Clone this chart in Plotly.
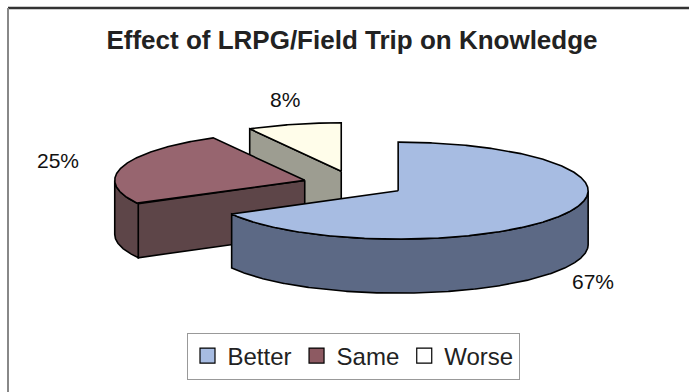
import numpy as np
import plotly.graph_objects as go

# ---- data -------------------------------------------------------------
categories = ["Better", "Same", "Worse"]
values = [67, 25, 8]

# ---- styling ----------------------------------------------------------
top_colors = ["#a7bce2", "#97656f", "#fffdea"]
side_colors = ["#5c6985", "#5d4548", "#9d9d91"]
legend_colors = ["#a7bce2", "#8d5a62", "#ffffff"]
FONT = "Liberation Sans, Arial, sans-serif"

# tilted-pie projection, in canvas pixel units
W, H = 689, 392
CX, CY = 354, 184          # centre of the un-exploded pie
RX, RY = 190, 48.5         # ellipse radii of the top face
DEPTH = 54                 # thickness of the pie
EXPLODE = 0.27             # slice offset along its bisector (fraction of radius)
LABEL_PULL = [(1.19, 1.50), (1.35, 1.48), (1.18, 1.53)]

total = float(sum(values))
fracs = [v / total for v in values]


def proj(ax, ay, th, dz=0.0):
    return ax + RX * np.cos(th), ay - RY * np.sin(th) + dz


fig = go.Figure()

slices = []
cum = 0.0
for i, f in enumerate(fracs):
    t0, t1 = cum, cum + f * 360.0          # clockwise degrees from 12 o'clock
    cum = t1
    th0, th1 = np.radians(90 - t0), np.radians(90 - t1)
    mid = 0.5 * (th0 + th1)
    ax = CX + EXPLODE * RX * np.cos(mid)
    ay = CY - EXPLODE * RY * np.sin(mid)
    slices.append(dict(i=i, th0=th0, th1=th1, mid=mid, ax=ax, ay=ay))

# paint back-to-front
for s in sorted(slices, key=lambda d: d["ay"]):
    i, ax, ay, th0, th1 = s["i"], s["ax"], s["ay"], s["th0"], s["th1"]
    polys = []

    # radial faces (visible when their outward normal points towards the viewer)
    for th, visible in ((th0, np.cos(th0) < -1e-9), (th1, np.cos(th1) > 1e-9)):
        if visible:
            rx_, ry_ = proj(ax, ay, th)
            polys.append(([ax, rx_, rx_, ax, ax],
                          [ay, ry_, ry_ + DEPTH, ay + DEPTH, ay]))

    # outer rim: front half of the ellipse only
    ths = np.linspace(th0, th1, int(abs(np.degrees(th1 - th0)) * 4) + 2)
    vis = np.sin(ths) <= 0
    runs, cur = [], []
    for th, v in zip(ths, vis):
        if v:
            cur.append(th)
        elif cur:
            runs.append(cur)
            cur = []
    if cur:
        runs.append(cur)
    for run in runs:
        run = np.array(run)
        xt, yt = proj(ax, ay, run)
        xb, yb = proj(ax, ay, run[::-1], DEPTH)
        xs = np.concatenate([xt, xb, xt[:1]])
        ys = np.concatenate([yt, yb, yt[:1]])
        polys.append((xs, ys))

    for xs, ys in polys:
        fig.add_trace(go.Scatter(
            x=list(xs), y=list(ys), mode="lines", fill="toself",
            fillcolor=side_colors[i], line=dict(color="black", width=1.6),
            hoverinfo="skip", showlegend=False))

    # top face
    xt, yt = proj(ax, ay, ths)
    fig.add_trace(go.Scatter(
        x=[ax] + list(xt) + [ax], y=[ay] + list(yt) + [ay],
        mode="lines", fill="toself", fillcolor=top_colors[i],
        line=dict(color="black", width=1.6),
        hoverinfo="skip", showlegend=False))

# percentage labels
for s in slices:
    i, mid = s["i"], s["mid"]
    fx, fy = LABEL_PULL[i]
    lx = s["ax"] + RX * np.cos(mid) * fx
    ly = s["ay"] - RY * np.sin(mid) * fy + (DEPTH if np.sin(mid) < 0 else 0)
    fig.add_annotation(x=lx, y=ly, text=f"{round(fracs[i] * 100)}%",
                       showarrow=False, xanchor="center", yanchor="middle",
                       font=dict(family=FONT, size=21, color="#111"))

# legend entries
for i, name in enumerate(categories):
    fig.add_trace(go.Scatter(
        x=[None], y=[None], mode="markers", name=name,
        marker=dict(symbol="square", size=15, color=legend_colors[i],
                    line=dict(color="black", width=1.2))))

# chart frame
fig.add_shape(type="line", x0=8, y0=8, x1=W, y1=8,
              line=dict(color="#333", width=2.5))
fig.add_shape(type="line", x0=8, y0=8, x1=8, y1=H,
              line=dict(color="#888", width=2))

fig.update_layout(
    width=W, height=H,
    margin=dict(l=0, r=0, t=0, b=0),
    paper_bgcolor="white", plot_bgcolor="white",
    xaxis=dict(range=[0, W], visible=False, fixedrange=True),
    yaxis=dict(range=[H, 0], visible=False, fixedrange=True),
    title=dict(text="<b>Effect of LRPG/Field Trip on Knowledge</b>",
               x=352 / W, xanchor="center", y=1 - 40 / H, yanchor="middle",
               font=dict(family=FONT, size=26, color="#222")),
    legend=dict(orientation="h", x=353 / W, xanchor="center",
                y=1 - 356 / H, yanchor="middle",
                bordercolor="#999", borderwidth=1, bgcolor="white",
                font=dict(family=FONT, size=24, color="#222"),
                itemwidth=30, tracegroupgap=0),
    showlegend=True,
)

fig.write_html("out.html")
